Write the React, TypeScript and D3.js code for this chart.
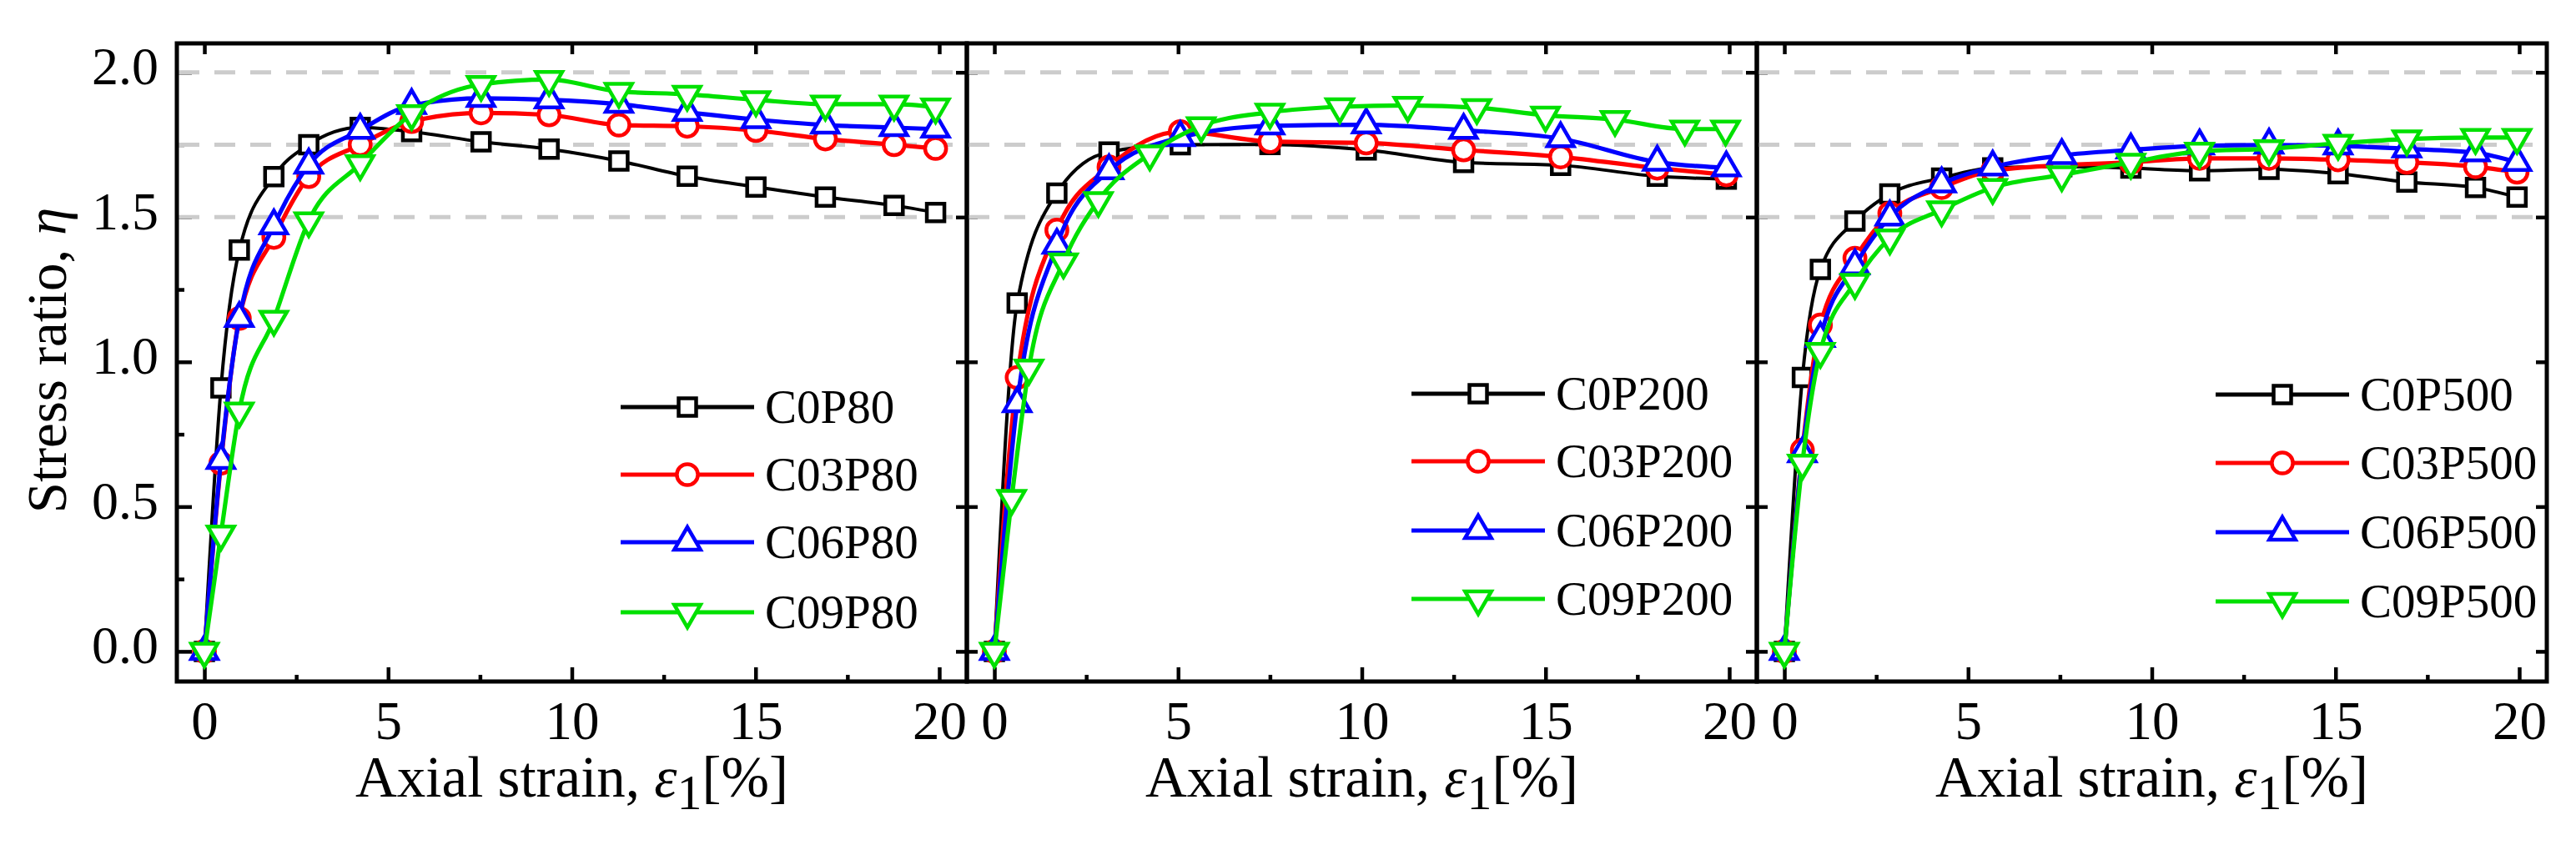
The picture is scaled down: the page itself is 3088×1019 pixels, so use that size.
import React, { useRef, useEffect } from "react";
import * as d3 from "d3";

// strain columns where markers sit
const strainP80 = [0, 0.45, 0.95, 1.89, 2.84, 4.24, 5.64, 7.53, 9.38, 11.28, 13.14, 15.01, 16.9, 18.77, 19.9];
const strainP200 = [0, 0.62, 1.7, 3.12, 5.06, 7.5, 10.12, 12.77, 15.41, 18.04, 19.92];
const strainP200g = [0, 0.47, 0.94, 1.88, 2.83, 4.23, 5.63, 7.5, 9.4, 11.25, 13.13, 15.0, 16.89, 18.79, 19.9];
const strainP500 = [0, 0.49, 0.98, 1.92, 2.87, 4.28, 5.67, 7.55, 9.43, 11.3, 13.19, 15.07, 16.94, 18.81, 19.94];

// stress ratio values
const c0p80 = [0, 0.91, 1.386, 1.64, 1.75, 1.81, 1.795, 1.76, 1.735, 1.694, 1.641, 1.604, 1.569, 1.54, 1.516];
const c03p80 = [0, 0.65, 1.15, 1.43, 1.64, 1.75, 1.83, 1.86, 1.853, 1.818, 1.814, 1.799, 1.77, 1.75, 1.737];
const c06p80 = [0, 0.66, 1.15, 1.47, 1.68, 1.8, 1.886, 1.91, 1.905, 1.89, 1.862, 1.837, 1.818, 1.809, 1.804];
const c09p80 = [0, 0.405, 0.83, 1.147, 1.487, 1.684, 1.857, 1.958, 1.975, 1.934, 1.924, 1.905, 1.89, 1.89, 1.88];

const c0p200 = [0, 1.203, 1.583, 1.725, 1.75, 1.751, 1.732, 1.689, 1.679, 1.641, 1.631];
const c03p200 = [0, 0.946, 1.455, 1.673, 1.795, 1.761, 1.756, 1.732, 1.708, 1.669, 1.646];
const c06p200 = [0, 0.856, 1.403, 1.66, 1.775, 1.815, 1.819, 1.8, 1.771, 1.69, 1.67];
const c09p200 = [0, 0.528, 0.978, 1.345, 1.557, 1.718, 1.815, 1.862, 1.881, 1.886, 1.878, 1.852, 1.837, 1.804, 1.804];

const c0p500 = [0, 0.946, 1.319, 1.486, 1.58, 1.635, 1.67, 1.674, 1.669, 1.66, 1.665, 1.65, 1.621, 1.602, 1.569];
const c03p500 = [0, 0.695, 1.127, 1.358, 1.513, 1.602, 1.66, 1.679, 1.689, 1.703, 1.703, 1.698, 1.689, 1.674, 1.655];
const c06p500 = [0, 0.683, 1.081, 1.332, 1.5, 1.615, 1.673, 1.713, 1.732, 1.746, 1.749, 1.746, 1.736, 1.722, 1.689];
const c09p500 = [0, 0.65, 1.036, 1.274, 1.428, 1.525, 1.602, 1.646, 1.689, 1.727, 1.736, 1.755, 1.77, 1.775, 1.775];

const namesP80 = ["C0P80", "C03P80", "C06P80", "C09P80"];
const namesP200 = ["C0P200", "C03P200", "C06P200", "C09P200"];
const namesP500 = ["C0P500", "C03P500", "C06P500", "C09P500"];

const xTicks = [0, 5, 10, 15, 20];
const xMinor = [2.5, 7.5, 12.5, 17.5];
const yTicks = [0, 0.5, 1.0, 1.5, 2.0];
const yMinor = [0.25, 0.75, 1.25, 1.75];
const gridLevels = [1.5, 1.75, 2.0];

const colors = ["#000000", "#ff0000", "#0000ff", "#00e000"];
const lineWidths = [4, 5.2, 5.2, 5.2];
const FONT = "'Liberation Serif', 'Times New Roman', serif";

const zip = (xs: number[], ys: number[]) => ys.map((v, i) => [xs[i], v] as [number, number]);

const panels = [
    {
        names: namesP80,
        series: [zip(strainP80, c0p80), zip(strainP80, c03p80), zip(strainP80, c06p80), zip(strainP80, c09p80)],
        legendX: 532,
        legendY: [488, 569, 650, 734],
    },
    {
        names: namesP200,
        series: [zip(strainP200, c0p200), zip(strainP200, c03p200), zip(strainP200, c06p200), zip(strainP200g, c09p200)],
        legendX: 533,
        legendY: [472, 553, 636, 718],
    },
    {
        names: namesP500,
        series: [zip(strainP500, c0p500), zip(strainP500, c03p500), zip(strainP500, c06p500), zip(strainP500, c09p500)],
        legendX: 550,
        legendY: [473, 555, 638, 721],
    },
];

const markerPath = (k: number) => {
    if (k === 0) return d3.symbol(d3.symbolSquare, 441)()!;
    if (k === 1) return d3.symbol(d3.symbolCircle, 500)()!;
    return d3.symbol(d3.symbolTriangle, 430)()!;
};

const App = () => {
    const ref = useRef<SVGSVGElement | null>(null);

    useEffect(() => {
        const svg = d3.select(ref.current);
        svg.selectAll("*").remove();

        const top = 52;
        const bottom = 817;
        const panelW = 947;
        const firstLeft = 212;

        const y = d3.scaleLinear().domain([-0.104, 2.1]).range([bottom, top]);

        const styleAxis = (g: any, size = 63) => {
            g.select(".domain").remove();
            g.attr("font-family", FONT).attr("font-size", size);
            g.selectAll("line").attr("stroke", "#000").attr("stroke-width", 4.5);
            g.selectAll("text").attr("fill", "#000");
        };

        panels.forEach((p, i) => {
            const left = firstLeft + i * panelW;
            const right = left + panelW;
            const x = d3.scaleLinear().domain([-0.75, 20.75]).range([left, right]);
            const g = svg.append("g");

            // bottom axis, major + minor ticks pointing inward
            g.append("g")
                .attr("transform", `translate(0,${bottom})`)
                .call(d3.axisBottom(x).tickValues(xTicks).tickSize(-17).tickSizeOuter(0).tickPadding(23).tickFormat(d3.format("d")) as any)
                .call((a: any) => styleAxis(a, 65));
            g.append("g")
                .attr("transform", `translate(0,${bottom})`)
                .call(d3.axisBottom(x).tickValues(xMinor).tickSize(-8).tickSizeOuter(0).tickFormat(() => "") as any)
                .call(styleAxis);

            // top axis
            g.append("g")
                .attr("transform", `translate(0,${top})`)
                .call(d3.axisTop(x).tickValues(xTicks).tickSize(-13).tickSizeOuter(0).tickFormat(() => "") as any)
                .call(styleAxis);

            // left axis
            if (i === 0) {
                g.append("g")
                    .attr("transform", `translate(${left},0)`)
                    .call(d3.axisLeft(y).tickValues(yTicks).tickSize(-18).tickSizeOuter(0).tickPadding(22).tickFormat(d3.format(".1f")) as any)
                    .call((a: any) => styleAxis(a, 64))
                    .call((a: any) => a.selectAll("text").attr("dy", "0.22em"));
                g.append("g")
                    .attr("transform", `translate(${left},0)`)
                    .call(d3.axisLeft(y).tickValues(yMinor).tickSize(-9).tickSizeOuter(0).tickFormat(() => "") as any)
                    .call(styleAxis);
            } else {
                g.append("g")
                    .attr("transform", `translate(${left},0)`)
                    .call(d3.axisLeft(y).tickValues(yTicks).tickSize(-13).tickSizeOuter(0).tickFormat(() => "") as any)
                    .call(styleAxis);
            }

            // right axis
            g.append("g")
                .attr("transform", `translate(${right},0)`)
                .call(d3.axisRight(y).tickValues(yTicks).tickSize(-13).tickSizeOuter(0).tickFormat(() => "") as any)
                .call(styleAxis);

            // dashed reference lines
            g.selectAll(".grid")
                .data(gridLevels)
                .join("line")
                .attr("x1", left + 2)
                .attr("x2", right - 2)
                .attr("y1", (d) => y(d))
                .attr("y2", (d) => y(d))
                .attr("stroke", "#cccccc")
                .attr("stroke-width", 5)
                .attr("stroke-dasharray", "25 18");

            // series
            const line = d3
                .line<[number, number]>()
                .x((d) => x(d[0]))
                .y((d) => y(d[1]))
                .curve(d3.curveMonotoneX);

            p.series.forEach((s, k) => {
                g.append("path")
                    .attr("d", line(s)!)
                    .attr("fill", "none")
                    .attr("stroke", colors[k])
                    .attr("stroke-width", lineWidths[k])
                    .attr("stroke-linejoin", "round");
                g.selectAll(`.m${k}`)
                    .data(s)
                    .join("path")
                    .attr("d", markerPath(k))
                    .attr("transform", (d) => `translate(${x(d[0])},${y(d[1])})${k === 3 ? " rotate(180)" : ""}`)
                    .attr("fill", "#fff")
                    .attr("stroke", colors[k])
                    .attr("stroke-width", 4.5);
            });

            // frame
            g.append("rect")
                .attr("x", left)
                .attr("y", top)
                .attr("width", panelW)
                .attr("height", bottom - top)
                .attr("fill", "none")
                .attr("stroke", "#000")
                .attr("stroke-width", 5);

            // legend
            const lx = left + p.legendX;
            p.names.forEach((name, k) => {
                const ly = p.legendY[k];
                g.append("line")
                    .attr("x1", lx)
                    .attr("x2", lx + 160)
                    .attr("y1", ly)
                    .attr("y2", ly)
                    .attr("stroke", colors[k])
                    .attr("stroke-width", 5);
                g.append("path")
                    .attr("d", markerPath(k))
                    .attr("transform", `translate(${lx + 80},${ly})${k === 3 ? " rotate(180)" : ""}`)
                    .attr("fill", "#fff")
                    .attr("stroke", colors[k])
                    .attr("stroke-width", 4.5);
                g.append("text")
                    .attr("x", lx + 173)
                    .attr("y", ly + 19)
                    .attr("font-family", FONT)
                    .attr("font-size", 57)
                    .attr("fill", "#000")
                    .text(name);
            });

            // x title
            const xt = g
                .append("text")
                .attr("x", x(10))
                .attr("y", 955)
                .attr("text-anchor", "middle")
                .attr("font-family", FONT)
                .attr("font-size", 69)
                .attr("fill", "#000");
            xt.append("tspan").text("Axial strain, ");
            xt.append("tspan").attr("font-style", "italic").text("ε");
            xt.append("tspan").attr("dy", 15).attr("font-size", 60).text("1");
            xt.append("tspan").attr("dy", -15).text("[%]");
        });

        // y title
        const yt = svg
            .append("text")
            .attr("transform", "translate(79,432) rotate(-90)")
            .attr("text-anchor", "middle")
            .attr("font-family", FONT)
            .attr("font-size", 67)
            .attr("fill", "#000");
        yt.append("tspan").text("Stress ratio, ");
        yt.append("tspan").attr("font-style", "italic").text("η");
    }, []);

    return (
        <svg
            ref={ref}
            width={3088}
            height={1019}
            viewBox="0 0 3088 1019"
            style={{ position: "absolute", left: 0, top: 0, background: "#fff" }}
        />
    );
};

export default App;
